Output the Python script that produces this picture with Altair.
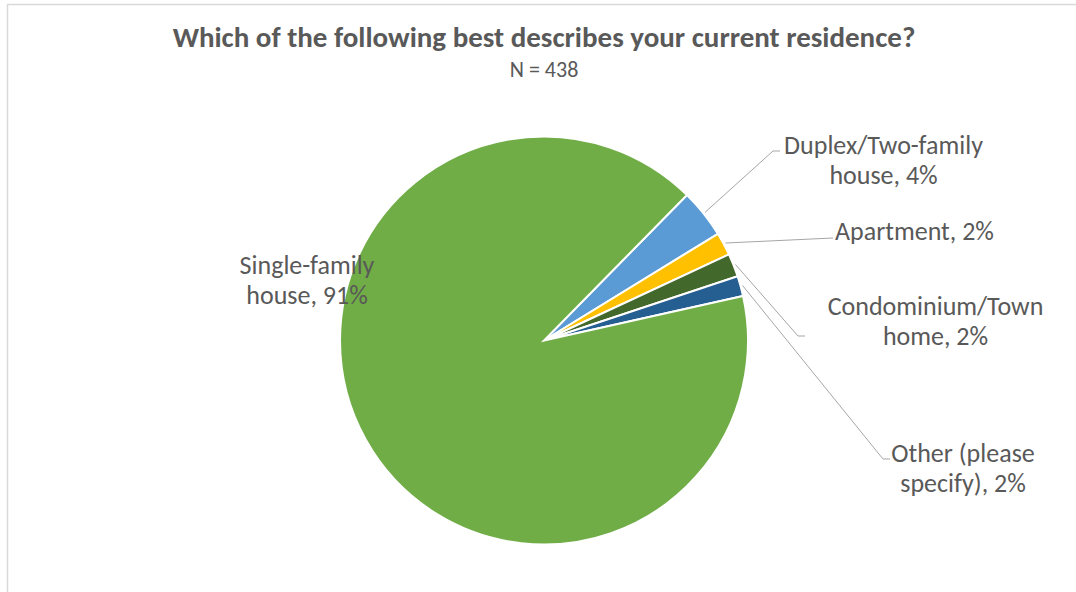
import math
import altair as alt
import pandas as pd

# ---------------- data ----------------
categories = [
    "Duplex/Two-family house",
    "Apartment",
    "Condominium/Town home",
    "Other (please specify)",
    "Single-family house",
]
counts = [17, 8, 8, 7, 398]
wrapped_names = [
    "Duplex/Two-family\nhouse",
    "Apartment",
    "Condominium/Town\nhome",
    "Other (please\nspecify)",
    "Single-family\nhouse",
]
colors = ["#5B9BD5", "#FFC000", "#43682B", "#255E91", "#70AD47"]
title_text = "Which of the following best describes your current residence?"
subtitle_text = "N = 438"

# ---------------- layout (pixels) ----------------
W, H = 1076, 592
CX, CY, R = 544, 340.5, 204
START_DEG = 44.5
LEADER_R = 206
FONT = "Carlito, Lato, sans-serif"
TEXT_COLOR = "#595959"
# label anchor (center x, first baseline y) per category
label_pos = [(883.5, 154), (914.5, 240), (935.5, 315), (963, 462), (307, 274)]
# leader line elbow / end points (None = no leader)
leader_pts = [
    [(773, 151), (780, 151)],
    [(833, 238)],
    [(798, 336), (805, 336)],
    [(883, 459), (890, 459)],
    None,
]

total = sum(counts)
start = math.radians(START_DEG)

pie_df = pd.DataFrame({
    "category": categories,
    "count": counts,
    "order": list(range(len(categories))),
})

# labels
pcts = [round(c / total * 100) for c in counts]
lab_df = pd.DataFrame({
    "category": categories,
    "label": [f"{n}, {p}%" for n, p in zip(wrapped_names, pcts)],
    "x": [p[0] for p in label_pos],
    "y": [p[1] for p in label_pos],
})

# leader lines: start at slice mid-angle
rows = []
cum = 0
for i, c in enumerate(counts):
    mid = start + 2 * math.pi * (cum + c / 2) / total
    cum += c
    if leader_pts[i] is None:
        continue
    pts = [(CX + LEADER_R * math.sin(mid), CY - LEADER_R * math.cos(mid))] + leader_pts[i]
    for k, (px, py) in enumerate(pts):
        rows.append({"category": categories[i], "k": k, "x": px, "y": py})
lead_df = pd.DataFrame(rows)

pie = alt.Chart(pie_df).mark_arc(
    stroke="white", strokeWidth=2, radius=R
).encode(
    theta=alt.Theta("count:Q", stack=True,
                    scale=alt.Scale(range=[start, start + 2 * math.pi])),
    order=alt.Order("order:Q"),
    color=alt.Color("category:N", legend=None,
                    scale=alt.Scale(domain=categories, range=colors)),
    x=alt.value(CX),
    y=alt.value(CY),
)

leaders = alt.Chart(lead_df).mark_line(
    color="#a6a6a6", strokeWidth=1
).encode(
    x=alt.X("x:Q", scale=None),
    y=alt.Y("y:Q", scale=None),
    detail="category:N",
    order="k:Q",
)

labels = alt.Chart(lab_df).mark_text(
    font=FONT, fontSize=26, color=TEXT_COLOR, align="center",
    baseline="alphabetic", lineBreak="\n", lineHeight=29.5
).encode(
    x=alt.X("x:Q", scale=None),
    y=alt.Y("y:Q", scale=None),
    text="label:N",
)

head_df = pd.DataFrame({
    "t": [title_text, subtitle_text],
    "x": [544, 544],
    "y": [46.5, 77],
})
title = alt.Chart(head_df.iloc[[0]]).mark_text(
    font=FONT, fontSize=29, fontWeight="bold", color=TEXT_COLOR,
    align="center", baseline="alphabetic"
).encode(x=alt.X("x:Q", scale=None), y=alt.Y("y:Q", scale=None), text="t:N")
subtitle = alt.Chart(head_df.iloc[[1]]).mark_text(
    font=FONT, fontSize=22, color=TEXT_COLOR,
    align="center", baseline="alphabetic"
).encode(x=alt.X("x:Q", scale=None), y=alt.Y("y:Q", scale=None), text="t:N")

border = alt.Chart(pd.DataFrame({"a": [0]})).mark_rect(
    filled=False, stroke="#d9d9d9", strokeWidth=1.5
).encode(
    x=alt.value(7.5), y=alt.value(4.5), x2=alt.value(W + 20), y2=alt.value(H + 20)
)

chart = alt.layer(border, pie, leaders, labels, title, subtitle).properties(
    width=W, height=H,
    autosize=alt.AutoSizeParams(type="none"),
    padding=0,
    background="white",
).configure_view(stroke=None)

chart.save("out.html", embed_options={"renderer": "svg", "actions": False})
